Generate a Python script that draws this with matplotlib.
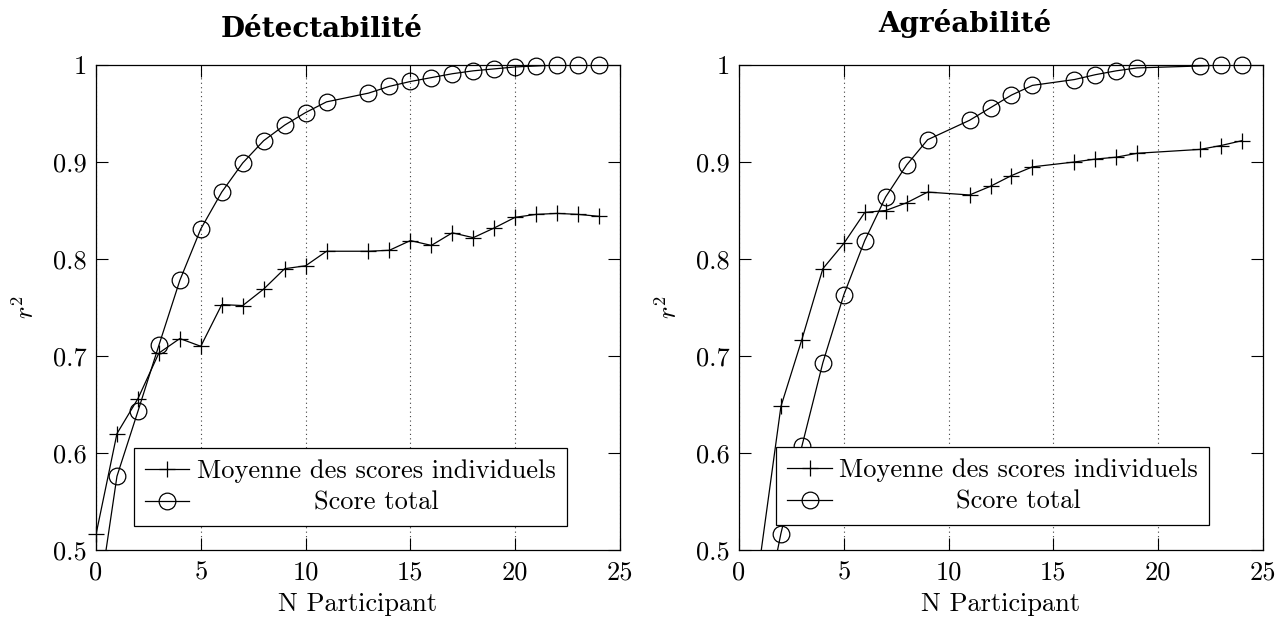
import numpy as np
import matplotlib.pyplot as plt
from matplotlib.lines import Line2D

# --- Data ---
det_x = [0, 1, 2, 3, 4, 5, 6, 7, 8, 9, 10, 11, 13, 14, 15, 16, 17, 18, 19, 20, 21, 22, 23, 24]
det_moyenne = [0.516, 0.620, 0.656, 0.703, 0.718, 0.710, 0.753, 0.752, 0.769, 0.790, 0.793, 0.808,
               0.808, 0.809, 0.819, 0.814, 0.827, 0.822, 0.832, 0.843, 0.846, 0.847, 0.846, 0.844]
det_total = [0.43, 0.576, 0.643, 0.711, 0.778, 0.831, 0.869, 0.899, 0.922, 0.938, 0.951, 0.962,
             0.971, 0.978, 0.983, 0.987, 0.991, 0.994, 0.996, 0.998, 0.999, 1.0, 1.0, 1.0]

agr_x = [1, 2, 3, 4, 5, 6, 7, 8, 9, 11, 12, 13, 14, 16, 17, 18, 19, 22, 23, 24]
agr_moyenne = [0.49, 0.648, 0.717, 0.790, 0.816, 0.848, 0.850, 0.858, 0.869, 0.866,
               0.875, 0.886, 0.895, 0.900, 0.903, 0.905, 0.909, 0.913, 0.917, 0.922]
agr_total = [0.41, 0.517, 0.607, 0.693, 0.763, 0.819, 0.864, 0.897, 0.923, 0.943,
             0.956, 0.969, 0.979, 0.985, 0.990, 0.994, 0.997, 0.999, 1.0, 1.0]

titles = ['Détectabilité', 'Agréabilité']
labels = ['Moyenne des scores individuels', 'Score total']
yticks = [0.5, 0.6, 0.7, 0.8, 0.9, 1.0]
ytick_labels = ['0.5', '0.6', '0.7', '0.8', '0.9', '1']
xticks = [0, 5, 10, 15, 20, 25]

# --- Style ---
plt.rcParams['font.family'] = ['cmr10', 'DejaVu Serif']
plt.rcParams['mathtext.fontset'] = 'cm'
plt.rcParams['axes.unicode_minus'] = False

fig = plt.figure(figsize=(12.84, 6.23), dpi=100)
ax1 = fig.add_axes([96 / 1284, 73 / 623, 524 / 1284, 485 / 623])
ax2 = fig.add_axes([739 / 1284, 73 / 623, 524 / 1284, 485 / 623])

fs = 19
lw = 0.9
ms = 12
mew = 0.9

panels = [
    (ax1, det_x, det_moyenne, det_total, titles[0], 20.5, (0.0725, 0.0495)),
    (ax2, agr_x, agr_moyenne, agr_total, titles[1], 24.0, (0.0714, 0.0515)),
]

legends = []
for ax, x, moy, tot, title, pad, anchor in panels:
    x = np.array(x)
    moy = np.array(moy)
    tot = np.array(tot)

    # lines are clipped to the axes, markers are not (like pgfplots)
    ax.plot(x, moy, color='black', lw=lw)
    ax.plot(x, tot, color='black', lw=lw)
    m = moy >= 0.5
    ax.plot(x[m], moy[m], ls='none', marker='+', ms=ms, mew=mew, color='black', clip_on=False)
    m = tot >= 0.5
    ax.plot(x[m], tot[m], ls='none', marker='o', ms=ms, mew=mew, mfc='none', mec='black', clip_on=False)

    ax.set_xlim(0, 25)
    ax.set_ylim(0.5, 1.0)
    ax.set_xticks(xticks)
    ax.set_xticklabels([str(t) for t in xticks])
    ax.set_yticks(yticks)
    ax.set_yticklabels(ytick_labels)
    ax.tick_params(direction='in', top=True, right=True, length=8.4, width=0.8,
                   labelsize=fs, pad=6.5)
    ax.tick_params(axis='x', pad=8)
    ax.grid(axis='x', color='0.25', linestyle=(0, (1, 3)), lw=0.8)
    for s in ax.spines.values():
        s.set_linewidth(0.9)

    ax.set_xlabel('N Participant', fontsize=fs, labelpad=5)
    ax.set_ylabel(r'$r^2$', fontsize=fs, labelpad=10)
    ax.set_title(title, fontsize=20, fontweight='bold', family='DejaVu Serif', pad=pad, x=0.431)

    handles = [Line2D([], [], color='black', lw=lw, marker='+', ms=ms, mew=mew),
               Line2D([], [], color='black', lw=lw, marker='o', ms=ms, mew=mew, mfc='none')]
    leg = ax.legend(handles, labels, loc='lower left', bbox_to_anchor=anchor,
                    borderaxespad=0, fancybox=False, framealpha=1, edgecolor='black',
                    fontsize=fs, handlelength=1.67, handletextpad=0.3,
                    labelspacing=0.3, borderpad=0.42)
    leg.get_frame().set_linewidth(0.9)
    legends.append(leg)

# centre the shorter legend entry in its column, as in the original
fig.canvas.draw()
renderer = fig.canvas.get_renderer()
for leg in legends:
    t0, t1 = leg.get_texts()
    w0 = t0.get_window_extent(renderer).width
    w1 = t1.get_window_extent(renderer).width
    t1.set_x((w0 - w1) / 2)

fig.savefig('out.png', dpi=100)
